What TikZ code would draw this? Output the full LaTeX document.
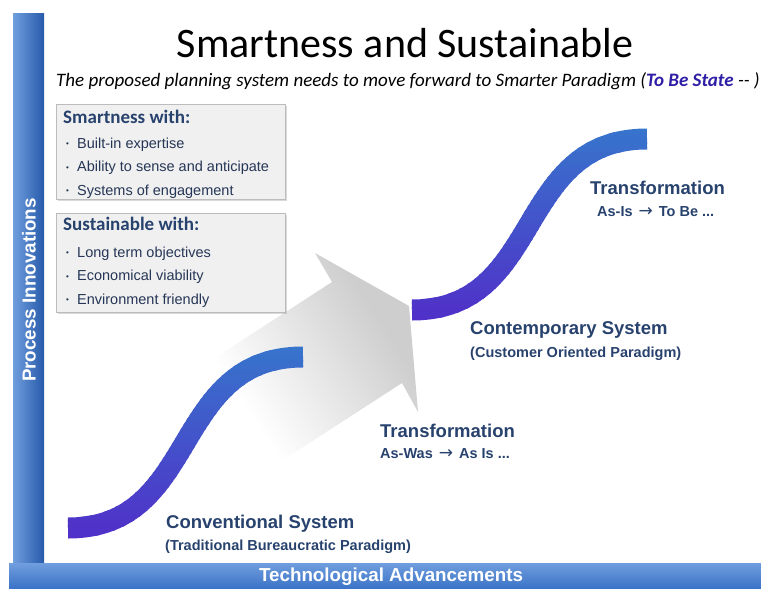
\documentclass[tikz,border=0pt]{standalone}
\usepackage{fontspec}
\setmainfont{Carlito}
\newfontfamily\arialfont{Liberation Sans}
\newfontfamily\symfont{DejaVu Sans}
\usetikzlibrary{shadows}

\definecolor{barblue}{RGB}{58,114,198}
\definecolor{barlight}{RGB}{112,158,222}
\definecolor{bardark}{RGB}{38,90,170}
\definecolor{curvetop}{RGB}{55,116,204}
\definecolor{curvebot}{RGB}{80,48,200}
\definecolor{labelblue}{RGB}{40,66,110}
\definecolor{bulletcol}{RGB}{38,54,86}
\definecolor{statecol}{RGB}{45,30,165}
\definecolor{boxfill}{RGB}{240,240,240}
\definecolor{boxline}{RGB}{188,188,188}
\definecolor{arrowgray}{RGB}{206,206,206}
\definecolor{arrowmid}{RGB}{226,226,226}

\pgfdeclarehorizontalshading{arrowfade}{100bp}{color(0bp)=(white); color(25bp)=(white);
  color(42bp)=(white); color(60bp)=(arrowmid); color(72bp)=(arrowgray); color(100bp)=(arrowgray)}

\tikzset{
  infobox/.style={draw=boxline, fill=boxfill, minimum width=229pt, inner sep=0pt,
                  drop shadow={shadow xshift=2pt, shadow yshift=-2pt, opacity=0.3}},
  boxhead/.style={anchor=base west, inner sep=0pt, text=labelblue,
                  font=\fontsize{19}{22}\selectfont\bfseries},
  bulletline/.style={anchor=base west, inner sep=0pt, text=bulletcol,
                  font=\arialfont\fontsize{14.5}{17}\selectfont},
  stage/.style={anchor=base west, inner sep=0pt, text=labelblue,
                  font=\arialfont\fontsize{18.5}{22}\selectfont\bfseries},
  substage/.style={anchor=base west, inner sep=0pt, text=labelblue,
                  font=\arialfont\fontsize{14.5}{17}\selectfont\bfseries},
  axislabel/.style={inner sep=0pt, text=white,
                  font=\arialfont\fontsize{18.8}{22}\selectfont\bfseries},
}
\newcommand{\dotitem}{\makebox[11pt][l]{\raisebox{1.5pt}{\fontsize{8}{8}\selectfont\textbullet}}}
\newcommand{\toarrow}{\hspace{6pt}{\symfont\mdseries\fontsize{17}{17}\selectfont →}\hspace{6pt}}

\begin{document}
\begin{tikzpicture}[x=1pt, y=-1pt]
  \useasboundingbox (0,0) rectangle (761,589);

  % big fading arrow in the background
  \shade[shading=arrowfade, shading angle=33]
    (139,407) -- (332,282) -- (315,253) -- (409,306) -- (418,412) -- (402,383) -- (209,508) -- cycle;

  % axes
  \shade[left color=barlight, middle color=barblue, right color=bardark] (13,13) rectangle (44,563);
  \shade[top color=barlight, bottom color=barblue] (9,563) rectangle (761,589);
  \node[axislabel, rotate=90] (procinno) at (29,290) {Process Innovations};
  \node[axislabel] (techadv) at (391,577) {Technological Advancements};

  % title
  \node[anchor=base, inner sep=0pt] (title) at (405,57)
        {\fontsize{42}{50}\selectfont Smartness and Sustainable};
  \node[anchor=base west, inner sep=0pt] (subtitle) at (56,86)
        {\fontsize{19}{22}\selectfont\itshape The proposed planning system needs to move forward to Smarter Paradigm
         (\textcolor{statecol}{\bfseries To Be State} -{}- )};

  % boxes
  \node[infobox, minimum height=95pt] (smartbox) at (170.5,151.5) {};
  \node[infobox, minimum height=99pt] (sustbox) at (170.5,262.5) {};
  \node[boxhead] (smarthead) at (63,123) {Smartness with:};
  \node[boxhead] (susthead) at (63,230) {Sustainable with:};
  \foreach \txt [count=\k] in {Built-in expertise, Ability to sense and anticipate, Systems of engagement}
    \node[bulletline] (smart\k) at (66,{124.5+23.5*\k}) {\dotitem\txt};
  \foreach \txt [count=\k] in {Long term objectives, Economical viability, Environment friendly}
    \node[bulletline] (sust\k) at (66,{233.5+23.5*\k}) {\dotitem\txt};

  % s-curves, in bands for the colour fade
  \foreach \dx/\dy in {0/0, 344/-218}{
    \begin{scope}[shift={(\dx,\dy)}]
      \foreach \i in {0,...,39}{
        \pgfmathsetmacro{\mix}{100*\i/39}
        \begin{scope}
          \clip (0,{346+\i*4.85}) rectangle (761,{346+(\i+1)*4.85+0.6});
          \draw[line width=21pt, color=curvebot!\mix!curvetop]
            (68,528) .. controls (200,528) and (170,357) .. (303,357);
        \end{scope}
      }
    \end{scope}
  }

  % stage labels
  \node[stage] (convsys) at (166,528) {Conventional System};
  \node[substage] (convsub) at (165,550) {(Traditional Bureaucratic Paradigm)};
  \node[stage] (trans1) at (380,437) {Transformation};
  \node[substage] (trans1sub) at (380,458) {As-Was\toarrow As Is ...};
  \node[stage] (contsys) at (470,334) {Contemporary System};
  \node[substage] (contsub) at (470,357) {(Customer Oriented Paradigm)};
  \node[stage] (trans2) at (590,194) {Transformation};
  \node[substage] (trans2sub) at (597,216) {As-Is\toarrow To Be ...};
\end{tikzpicture}
\end{document}
